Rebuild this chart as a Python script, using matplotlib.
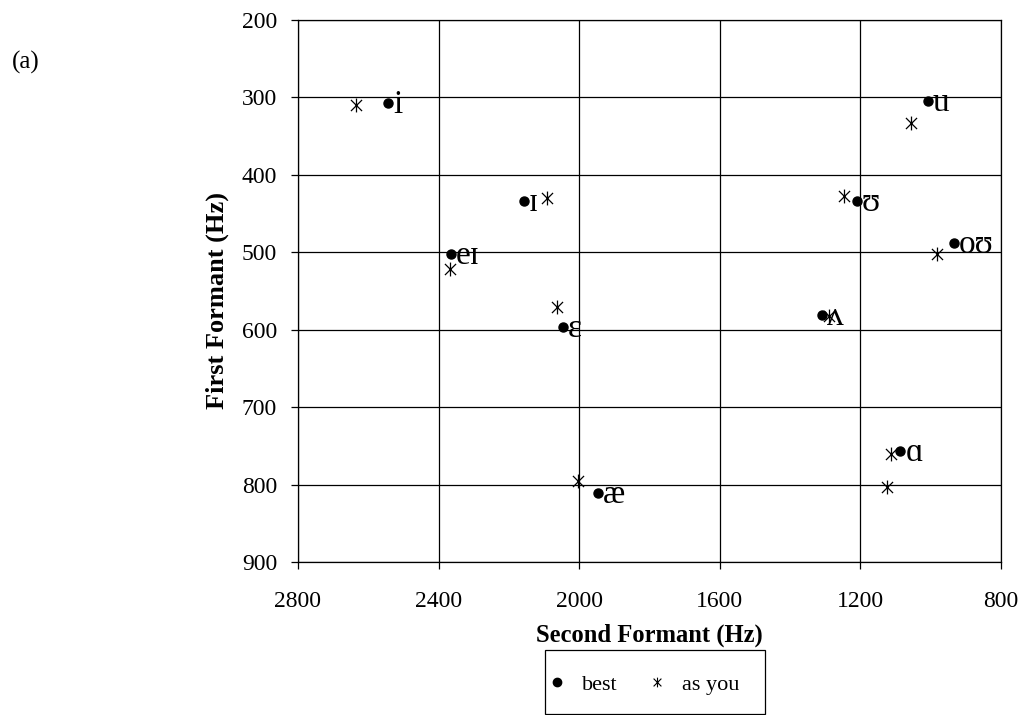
import matplotlib
matplotlib.use("Agg")
import matplotlib.pyplot as plt
from matplotlib.lines import Line2D
from matplotlib.path import Path
from matplotlib.patches import Rectangle

plt.rcParams['font.family'] = ['Liberation Serif', 'DejaVu Serif']

# vowel formants (F2, F1 in Hz)
vowels = ['i', 'ɪ', 'eɪ', 'ɛ', 'æ', 'u', 'ʊ', 'oʊ', 'ʌ', 'ɑ']
best_f2 = [2544, 2157, 2364, 2046, 1946, 1009, 1209, 935, 1310, 1086]
best_f1 = [307, 434, 502, 597, 811, 305, 434, 488, 581, 757]
asyou_f2 = [2635, 2091, 2368, 2063, 2003, 1055, 1246, 981, 1290, 1112, 1123]
asyou_f1 = [310, 430, 522, 571, 796, 333, 427, 502, 582, 761, 803]

x_ticks = [2800, 2400, 2000, 1600, 1200, 800]
y_ticks = [200, 300, 400, 500, 600, 700, 800, 900]

# asterisk: an x with a vertical stroke through it
star = Path([(0, -1), (0, 1), (-0.8, -0.8), (0.8, 0.8), (-0.8, 0.8), (0.8, -0.8)],
            [Path.MOVETO, Path.LINETO] * 3)

fig = plt.figure(figsize=(10.23, 7.15), dpi=100)
ax = fig.add_axes([0.2913, 0.214, 0.6872, 0.758])

ax.plot(asyou_f2, asyou_f1, linestyle='none', marker=star, markersize=10,
        markeredgewidth=0.9, color='black', zorder=3)
ax.plot(best_f2, best_f1, linestyle='none', marker='o', markersize=6.5,
        color='black', zorder=4)

for v, x, y in zip(vowels, best_f2, best_f1):
    ax.annotate(v, (x, y), xytext=(3.5, -7), textcoords='offset points',
                ha='left', va='baseline', fontsize=24, zorder=5)

ax.set_xlim(2800, 800)
ax.set_ylim(900, 200)
ax.set_xticks(x_ticks)
ax.set_yticks(y_ticks)
ax.grid(True, color='black', linewidth=0.9)
ax.set_axisbelow(True)
for s in ax.spines.values():
    s.set_linewidth(0.9)
ax.tick_params(direction='out', length=5, width=0.9, labelsize=17)
ax.tick_params(axis='x', pad=16)
ax.tick_params(axis='y', pad=10)

ax.set_xlabel('Second Formant (Hz)', fontsize=17.7, fontweight='bold', va='center')
ax.set_ylabel('First Formant (Hz)', fontsize=19, fontweight='bold', va='center')
ax.xaxis.set_label_coords(0.5, -0.135)
ax.yaxis.set_label_coords(-0.115, 0.483)

fig.text(0.025, 0.912, '(a)', fontsize=18, ha='center', va='center')

handles = [
    Line2D([], [], linestyle='none', marker='o', markersize=6, color='black'),
    Line2D([], [], linestyle='none', marker=star, markersize=7,
           markeredgewidth=0.8, color='black'),
]
fig.legend(handles, ['best', 'as you'], ncol=2, loc='center left',
           bbox_to_anchor=(550 / 1023, 1 - 685 / 715), fontsize=16,
           frameon=False, borderpad=0, borderaxespad=0,
           handlelength=0.6, handletextpad=0.85, columnspacing=1.45)
fig.patches.append(Rectangle((545 / 1023, 1 / 715), 220 / 1023, 64 / 715,
                             transform=fig.transFigure, fill=False,
                             edgecolor='black', linewidth=0.9))

fig.savefig('out.png', dpi=100)
